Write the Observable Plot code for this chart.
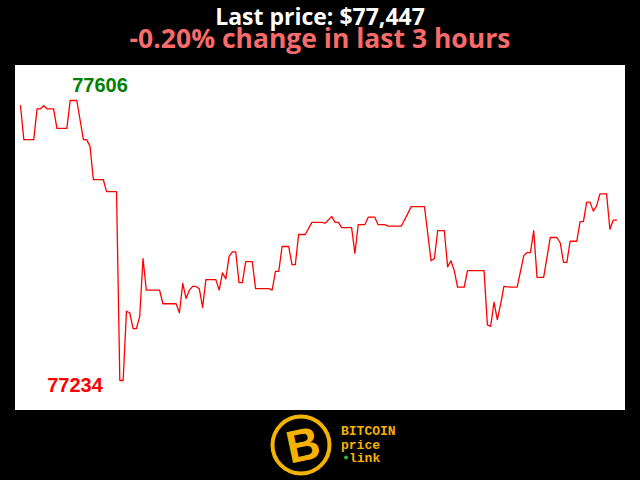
<!DOCTYPE html>
<html><head><meta charset="utf-8">
<script src="https://cdn.jsdelivr.net/npm/d3@7"></script>
<script src="https://cdn.jsdelivr.net/npm/@observablehq/plot@0.6"></script>
<style>
html,body{margin:0;padding:0;background:#000;width:640px;height:480px;overflow:hidden;}
#t1{position:absolute;left:0;width:640px;top:6px;text-align:center;color:#fff;font-family:"Open Sans";font-weight:700;font-size:23px;line-height:20px;}
#t2{position:absolute;left:0;width:640px;top:26px;text-align:center;color:#f86b6b;font-family:"Open Sans";font-weight:700;font-size:26.5px;line-height:24px;}
#chart{position:absolute;left:15px;top:65px;width:610px;height:345px;}
#logo{position:absolute;left:268px;top:410px;}
</style></head><body>
<div id="t1"></div>
<div id="t2"></div>
<div id="chart"></div>
<svg id="logo" width="140" height="70">
  <circle cx="33" cy="35" r="28.5" fill="#000" stroke="#f4b300" stroke-width="4"/>
  <text x="35" y="51" text-anchor="middle" transform="rotate(-12 33 35)" fill="#f4b300" font-family="Liberation Sans" font-weight="bold" font-size="46">B</text>
  <text x="73" y="25" fill="#f4b300" font-family="Liberation Mono" font-weight="bold" font-size="13">BITCOIN</text>
  <text x="73" y="38.5" fill="#f4b300" font-family="Liberation Mono" font-weight="bold" font-size="13">price</text>
  <circle cx="78" cy="47.5" r="2" fill="#2db82d"/>
  <text x="81" y="52" fill="#f4b300" font-family="Liberation Mono" font-weight="bold" font-size="13">link</text>
</svg>
<script>
const minutes = [0,1,4,5,6,7,8,10,11,14,15,17,19,20,21,22,25,26,29,30,31,32,33,34,35,36,37,38,42,43,47,48,49,50,51,52,53,54,55,56,59,60,61,62,63,64,65,66,67,68,70,71,75,76,77,78,79,81,82,83,84,86,88,91,92,94,95,96,97,100,101,102,104,105,107,108,110,111,115,117,118,122,124,125,126,128,129,130,131,132,134,135,140,141,142,143,144,145,146,148,150,152,153,154,155,156,158,160,162,163,164,165,166,168,169,170,171,172,173,174,175,177,178,179,180];
const prices = [77599,77554,77554,77595,77595,77599,77595,77595,77569,77569,77606,77606,77554,77554,77545,77501,77501,77485,77485,77234,77234,77326,77324,77303,77303,77319,77396,77354,77354,77336,77336,77324,77363,77343,77354,77359,77359,77356,77331,77368,77368,77354,77377,77369,77399,77405,77405,77364,77364,77392,77392,77356,77356,77354,77379,77379,77412,77412,77388,77388,77428,77428,77444,77444,77443,77452,77444,77444,77437,77437,77403,77441,77441,77451,77451,77441,77441,77439,77439,77456,77465,77465,77393,77396,77433,77433,77385,77393,77380,77358,77358,77380,77380,77308,77306,77338,77315,77335,77359,77358,77358,77400,77404,77404,77433,77371,77371,77424,77424,77417,77391,77391,77419,77419,77445,77445,77471,77471,77459,77466,77482,77482,77435,77447,77447];
const titleText = "Last price: $77,447";
const subtitleText = "-0.20% change in last 3 hours";

document.getElementById("t1").textContent = titleText;
document.getElementById("t2").textContent = subtitleText;

const data = minutes.map((m, i) => ({minute: m, price: prices[i]}));
const maxPt = data.reduce((a, b) => b.price > a.price ? b : a);
const minPt = data.reduce((a, b) => b.price < a.price ? b : a);

const chart = Plot.plot({
  width: 610,
  height: 345,
  marginLeft: 5,
  marginRight: 9,
  marginTop: 35,
  marginBottom: 30,
  x: {domain: [0, 180], axis: null},
  y: {domain: [minPt.price, maxPt.price], axis: null},
  style: {background: "#fff"},
  marks: [
    Plot.line(data, {x: "minute", y: "price", stroke: "#ff0000", strokeWidth: 1.3}),
    Plot.text([maxPt], {x: "minute", y: "price", text: d => String(d.price), textAnchor: "start", lineAnchor: "bottom", dx: 2, dy: -9, fill: "#008000", fontFamily: "Liberation Sans", fontWeight: "bold", fontSize: 20}),
    Plot.text([minPt], {x: "minute", y: "price", text: d => String(d.price), textAnchor: "end", lineAnchor: "bottom", dx: -17, dy: 11, fill: "#ff0000", fontFamily: "Liberation Sans", fontWeight: "bold", fontSize: 20})
  ]
});
document.getElementById("chart").appendChild(chart);
</script>
</body></html>
